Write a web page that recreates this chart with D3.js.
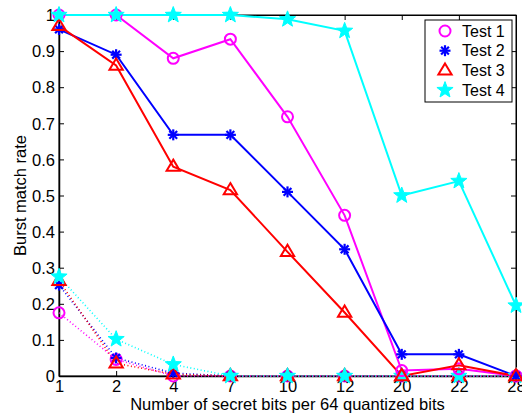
<!DOCTYPE html>
<html>
<head>
<meta charset="utf-8">
<script src="https://cdn.jsdelivr.net/npm/d3@7"></script>
<style>
html,body{margin:0;padding:0;background:#fff;}
text{font-family:"Liberation Sans",Arial,Helvetica,sans-serif;}
</style>
</head>
<body>
<svg id="chart" width="522" height="415"></svg>
<script>
const categories = ["1","2","4","7","10","12","20","22","28"];
const yTicks = [0,0.1,0.2,0.3,0.4,0.5,0.6,0.7,0.8,0.9,1];
const yTickLabels = ["0","0.1","0.2","0.3","0.4","0.5","0.6","0.7","0.8","0.9","1"];
const seriesNames = ["Test 1","Test 2","Test 3","Test 4"];
const seriesColors = ["#ff00ff","#0000ff","#ff0000","#00ffff"];
const seriesMarkers = ["circle","asterisk","triangle","star"];
// solid lines
const test1 = [1.0,1.0,0.88,0.933,0.718,0.445,0.015,0.02,0.0];
const test2 = [0.96,0.89,0.668,0.668,0.51,0.351,0.06,0.06,0.0];
const test3 = [0.97,0.86,0.58,0.515,0.344,0.176,0.0,0.03,0.0];
const test4 = [1.0,1.0,1.0,1.0,0.988,0.956,0.50,0.54,0.195];
// dotted lines
const test1b = [0.175,0.046,0.0,0,0,0,0,0,0];
const test2b = [0.252,0.05,0.008,0,0,0,0,0,0];
const test3b = [0.264,0.035,0.005,0,0,0,0,0,0];
const test4b = [0.275,0.102,0.032,0,0,0,0,0,0];
const xLabel = "Number of secret bits per 64 quantized bits";
const yLabel = "Burst match rate";

const solid = [test1,test2,test3,test4];
const dotted = [test1b,test2b,test3b,test4b];

const svg = d3.select("#chart");
const L = 59, R = 516, T = 15, B = 376;
const x = d3.scalePoint().domain(categories).range([L,R]);
const y = d3.scaleLinear().domain([0,1]).range([B,T]);

// box
svg.append("rect").attr("x",L).attr("y",T).attr("width",R-L).attr("height",B-T)
  .attr("fill","none").attr("stroke","#000").attr("stroke-width",1);

// axes
const tl = 5;
const gx = svg.append("g").attr("transform",`translate(0,${B})`)
  .call(d3.axisBottom(x).tickSizeInner(-tl).tickSizeOuter(0).tickPadding(4));
const gy = svg.append("g").attr("transform",`translate(${L},0)`)
  .call(d3.axisLeft(y).tickValues(yTicks).tickFormat((d,i)=>yTickLabels[i]).tickSizeInner(-tl).tickSizeOuter(0).tickPadding(4));
const gxt = svg.append("g").attr("transform",`translate(0,${T})`)
  .call(d3.axisTop(x).tickSizeInner(-tl).tickSizeOuter(0).tickFormat(""));
const gyr = svg.append("g").attr("transform",`translate(${R},0)`)
  .call(d3.axisRight(y).tickValues(yTicks).tickSizeInner(-tl).tickSizeOuter(0).tickFormat(""));
[gx,gy,gxt,gyr].forEach(g=>{
  g.select(".domain").attr("stroke","#000").attr("stroke-width",1.5);
  g.selectAll(".tick line").attr("stroke","#000");
  g.selectAll(".tick text").attr("font-size","16.5px").attr("fill","#000")
   .attr("font-family","Liberation Sans, Arial, sans-serif");
});
gxt.select(".domain").attr("stroke-width",1);
gyr.select(".domain").attr("stroke-width",1);
gy.selectAll(".tick text").attr("dy","0.35em");

// labels
svg.append("text").attr("x",(L+R)/2).attr("y",410).attr("text-anchor","middle")
  .attr("font-size","16.5px").text(xLabel);
svg.append("text").attr("transform",`translate(26,${(T+B)/2}) rotate(-90)`)
  .attr("text-anchor","middle").attr("font-size","16.5px").text(yLabel);

const line = d3.line().x((d,i)=>x(categories[i])).y(d=>y(d));

function starPath(r){
  const pts=[];
  for(let k=0;k<10;k++){
    const rr = k%2===0 ? r : r*0.42;
    const a = -Math.PI/2 + k*Math.PI/5;
    pts.push([rr*Math.cos(a), rr*Math.sin(a)]);
  }
  return "M"+pts.map(p=>p.join(",")).join("L")+"Z";
}
function drawMarker(g, type, color, cx, cy){
  const m = g.append("g").attr("transform",`translate(${cx},${cy})`);
  if(type==="circle"){
    m.append("circle").attr("r",5.5).attr("fill","none").attr("stroke",color).attr("stroke-width",2);
  } else if(type==="asterisk"){
    const r=5.5;
    for(let k=0;k<4;k++){
      const a=k*Math.PI/4;
      m.append("line").attr("x1",-r*Math.cos(a)).attr("y1",-r*Math.sin(a))
        .attr("x2",r*Math.cos(a)).attr("y2",r*Math.sin(a))
        .attr("stroke",color).attr("stroke-width",2.2);
    }
  } else if(type==="triangle"){
    const r=7;
    m.append("path").attr("d",`M0,${-r}L${r*0.95},${r*0.6}L${-r*0.95},${r*0.6}Z`)
      .attr("fill","none").attr("stroke",color).attr("stroke-width",2);
  } else if(type==="star"){
    m.append("path").attr("d",starPath(8.5)).attr("fill",color).attr("stroke",color).attr("stroke-width",1);
  }
}

const plot = svg.append("g");
// dotted series
dotted.forEach((vals,s)=>{
  plot.append("path").datum(vals).attr("d",line).attr("fill","none")
    .attr("stroke",seriesColors[s]).attr("stroke-width",1.6).attr("stroke-dasharray","1,2.5");
});
// solid series
solid.forEach((vals,s)=>{
  plot.append("path").datum(vals).attr("d",line).attr("fill","none")
    .attr("stroke",seriesColors[s]).attr("stroke-width",2);
});
dotted.forEach((vals,s)=>{
  vals.forEach((v,i)=>drawMarker(plot,seriesMarkers[s],seriesColors[s],x(categories[i]),y(v)));
});
solid.forEach((vals,s)=>{
  vals.forEach((v,i)=>drawMarker(plot,seriesMarkers[s],seriesColors[s],x(categories[i]),y(v)));
});

// legend
const lg = svg.append("g");
lg.append("rect").attr("x",425).attr("y",20).attr("width",87).attr("height",82)
  .attr("fill","#fff").attr("stroke","#000").attr("stroke-width",1);
seriesNames.forEach((n,s)=>{
  const cy = 31 + s*19.7;
  drawMarker(lg,seriesMarkers[s],seriesColors[s],445,cy);
  lg.append("text").attr("x",462).attr("y",cy).attr("dy","0.36em").attr("font-size","16px").text(n);
});
</script>
</body>
</html>
